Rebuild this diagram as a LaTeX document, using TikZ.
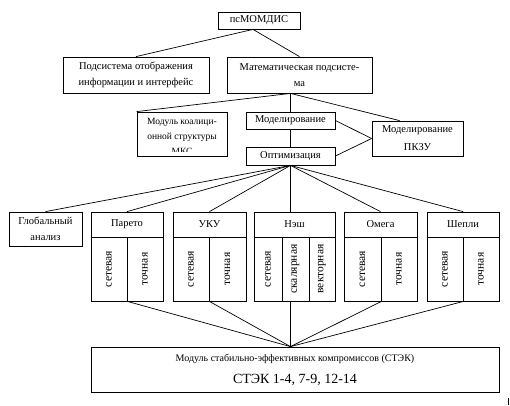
\documentclass[tikz,border=0pt]{standalone}
\usepackage{fontspec}
\setmainfont{Liberation Serif}
\usepackage{graphicx}
\usetikzlibrary{positioning}

\tikzset{
  box/.style={draw,line width=.8pt,inner sep=0pt,align=center,font=\fontsize{10.5}{16}\selectfont},
  hdr/.style={box,minimum height=25pt},
  col/.style={box,minimum height=64pt,font=\fontsize{11.5}{16}\selectfont},
  link/.style={line width=.7pt}
}

\begin{document}
\begin{tikzpicture}[x=1pt,y=-1pt]
\useasboundingbox (0,0) rectangle (510,405);
% upper levels
\node[box,minimum width=82pt,minimum height=17pt] (psm) at (259,20.5) {псМОМДИС};
\node[box,minimum width=146pt,minimum height=36pt] (disp) at (136,75) {Подсистема отображения\\информации и интерфейс};
\node[box,minimum width=145pt,minimum height=36pt] (math) at (299.5,75) {Математическая подсисте-\\ма};
\node[box,minimum width=89pt,minimum height=17pt] (model) at (290.5,120.5) {Моделирование};
\node[box,minimum width=89pt,minimum height=18pt] (opt) at (290.5,156) {Оптимизация};
\node[box,minimum width=91pt,minimum height=35pt,font=\fontsize{10.5}{18}\selectfont] (pkzu) at (417.5,138.5) {Моделирование\\ПКЗУ};
\node[box,minimum width=90pt,minimum height=44pt] (coal) at (182,134) {};
\begin{scope}
\clip (coal.north west) rectangle ([yshift=4.5pt]coal.south east);
\node[font=\fontsize{9.5}{15}\selectfont,align=center,anchor=north] (coaltxt) at ([yshift=-3pt]coal.north) {Модуль коалици-\\онной структуры\\МКС};
\end{scope}
% methods
\node[box,minimum width=73pt,minimum height=34pt] (glob) at (45.5,229) {Глобальный\\анализ};
\node[hdr,minimum width=72pt] (par) at (127,224.5) {Парето};
\node[col,minimum width=36pt] (par1) at (109,269) {\rotatebox{90}{сетевая}};
\node[col,minimum width=36pt] (par2) at (145,269) {\rotatebox{90}{точная}};
\node[hdr,minimum width=73pt] (uku) at (209.5,224.5) {УКУ};
\node[col,minimum width=36pt] (uku1) at (191,269) {\rotatebox{90}{сетевая}};
\node[col,minimum width=37pt] (uku2) at (227.5,269) {\rotatebox{90}{точная}};
\node[hdr,minimum width=81pt] (nash) at (294.5,224.5) {Нэш};
\node[col,minimum width=28pt] (nash1) at (268,269) {\rotatebox{90}{сетевая}};
\node[col,minimum width=27pt] (nash2) at (295.5,269) {\rotatebox{90}{скалярная}};
\node[col,minimum width=26pt] (nash3) at (322,269) {\rotatebox{90}{векторная}};
\node[hdr,minimum width=73pt] (omg) at (380.5,224.5) {Омега};
\node[col,minimum width=37pt] (omg1) at (362.5,269) {\rotatebox{90}{сетевая}};
\node[col,minimum width=36pt] (omg2) at (399,269) {\rotatebox{90}{точная}};
\node[hdr,minimum width=72pt] (shp) at (463,224.5) {Шепли};
\node[col,minimum width=36pt] (shp1) at (445,269) {\rotatebox{90}{сетевая}};
\node[col,minimum width=36pt] (shp2) at (481,269) {\rotatebox{90}{точная}};
% result
\node[box,minimum width=408pt,minimum height=45pt,font=\fontsize{10}{22}\selectfont] (stek) at (295,369.5) {Модуль стабильно-эффективных компромиссов (СТЭК)\\{\fontsize{14}{22}\selectfont СТЭК 1-4, 7-9, 12-14}};
% connectors
\draw[link] ([xshift=-6pt]psm.south)--(disp.north);
\draw[link] ([xshift=-6pt]psm.south)--(math.north);
\draw[link] (model.north |- math.south)--(coal.north west);
\draw[link] (model.north |- math.south)--(model.north);
\draw[link] (model.north |- math.south)--([xshift=28pt]pkzu.north west);
\draw[link] (model.south)--(opt.north);
\draw[link] (model.east)--(pkzu.west);
\draw[link] (opt.east)--(pkzu.west);
\draw[link] (opt.south)--(glob.north);
\draw[link] (opt.south)--(par.north);
\draw[link] (opt.south)--(uku.north);
\draw[link] (opt.south)--(opt.south |- nash.north);
\draw[link] (opt.south)--(omg.north);
\draw[link] (opt.south)--(shp.north);
\draw[link] (par1.south east)--(opt.south |- stek.north);
\draw[link] (uku1.south east)--(opt.south |- stek.north);
\draw[link] (opt.south |- nash2.south)--(opt.south |- stek.north);
\draw[link] (omg1.south east)--(opt.south |- stek.north);
\draw[link] (shp1.south east)--(opt.south |- stek.north);
\coordinate (tick) at (508.5,398);
\draw[line width=1pt] (tick)--++(0,7);
\end{tikzpicture}
\end{document}
